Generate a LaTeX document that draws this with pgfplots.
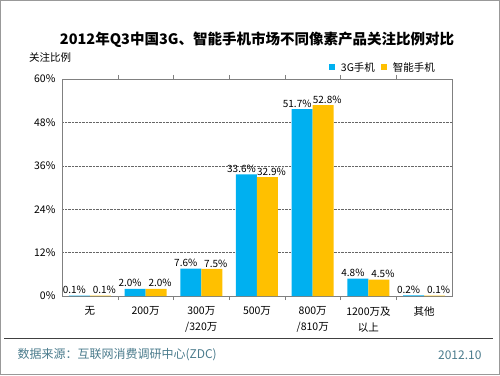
\documentclass[border=0pt]{standalone}
\usepackage{pgfplots}
\pgfplotsset{compat=1.18}
\usepackage{fontspec}
\setmainfont{Noto Sans CJK SC}
\definecolor{cblue}{HTML}{00B0F0}
\definecolor{cyell}{HTML}{FFC000}
\definecolor{srcc}{HTML}{4A7B8C}
\begin{document}
\begin{tikzpicture}[x=1pt,y=1pt]
\useasboundingbox (0,0) rectangle (500,375);
\draw[gray!80, line width=1pt] (0.5,0.5) rectangle (499.5,374.5);
\node[font=\fontsize{14.5}{16}\selectfont\bfseries] at (257,335) {2012年Q3中国3G、智能手机市场不同像素产品关注比例对比};
\node[font=\fontsize{10.5}{12}\selectfont] at (50,318) {关注比例};
\draw[black!75, line width=0.8pt] (4,37) -- (493,37);
\node[font=\fontsize{12}{14}\selectfont, text=srcc, anchor=west] at (14,20) {数据来源：互联网消费调研中心(ZDC)};
\node[font=\fontsize{12}{14}\selectfont, text=srcc, anchor=east] at (485,20) {2012.10};
\begin{axis}[
  at={(62pt,79pt)}, anchor=south west,
  scale only axis, width=390pt, height=217pt,
  xmin=-0.5, xmax=6.5, ymin=0, ymax=60,
  ytick={0,12,24,36,48,60},
  yticklabel={\pgfmathprintnumber{\tick}\%},
  ytick style={draw=none},
  xtick={0,1,2,3,4,5,6},
  xticklabels={无,200万,{300万\\/320万},500万,{800万\\/810万},{1200万及\\以上},其他},
  xticklabel style={align=center, font=\fontsize{10.5}{16}\selectfont, yshift=-3pt},
  yticklabel style={font=\fontsize{10.5}{12}\selectfont, xshift=-3pt},
  xtick style={draw=none},
  extra x ticks={0.5,1.5,2.5,3.5,4.5,5.5},
  extra x tick labels={},
  extra x tick style={xtick style={draw=gray}, major tick length=4pt, tick align=outside, grid=none},
  ymajorgrids, grid style={densely dotted, gray!80!black},
  axis line style={gray, line width=0.8pt},
  /pgf/number format/assume math mode=true,
  ybar=0pt, bar width=21pt,
  nodes near coords={\pgfmathprintnumber[fixed,precision=1,fixed zerofill]{\pgfplotspointmeta}\%},
  every node near coord/.append style={font=\fontsize{10}{12}\selectfont, black, inner sep=1.5pt},
  legend columns=2,
  legend style={at={(axis description cs:0.823,1.01)}, anchor=south, draw=none, fill=none,
     font=\fontsize{10.5}{12}\selectfont, column sep=4pt},
  legend image code/.code={\fill[#1] (0pt,-3pt) rectangle (6pt,3pt);},
]
\addplot[fill=cblue, draw=none, every node near coord/.append style={xshift=-5pt}] coordinates {(0,0.1) (1,2.0) (2,7.6) (3,33.6) (4,51.7) (5,4.8) (6,0.2)};
\addplot[fill=cyell, draw=none, every node near coord/.append style={xshift=4pt}] coordinates {(0,0.1) (1,2.0) (2,7.5) (3,32.9) (4,52.8) (5,4.5) (6,0.1)};
\legend{3G手机,智能手机}
\end{axis}
\end{tikzpicture}
\end{document}
